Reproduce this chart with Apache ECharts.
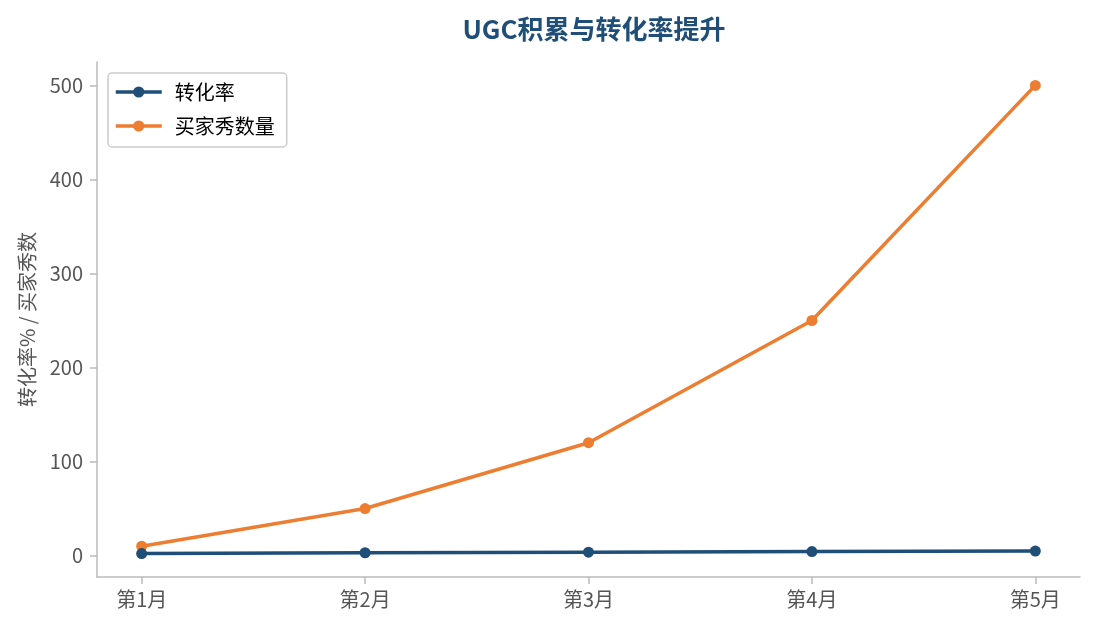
<!DOCTYPE html>
<html><head><meta charset="utf-8">
<script src="https://cdn.jsdelivr.net/npm/echarts@6/dist/echarts.min.js"></script>
<style>html,body{margin:0;padding:0;background:#fff}#c{width:1095px;height:630px}</style>
</head><body><div id="c"></div>
<script>
const categories = ['第1月','第2月','第3月','第4月','第5月'];
const conversionRate = [2.1, 3.0, 3.6, 4.2, 4.8];
const ugcCount = [10, 50, 120, 250, 500];
const yTicks = [0, 100, 200, 300, 400, 500];
const xTicks = [0, 1, 2, 3, 4];

const FONT = '"Noto Sans CJK SC", "Noto Sans", sans-serif';
const chart = echarts.init(document.getElementById('c'));
const toPts = arr => arr.map((v, i) => [i, v]);
chart.setOption({
  backgroundColor: '#fff',
  animation: false,
  title: {
    text: 'UGC积累与转化率提升',
    left: 589, top: 11, textAlign: 'center',
    textStyle: {fontFamily: FONT, fontSize: 26, fontWeight: 'bold', color: '#1f4e79'}
  },
  legend: {
    orient: 'vertical', left: 108, top: 73,
    padding: [9, 12, 11, 6],
    itemWidth: 46, itemHeight: 14, itemGap: 14,
    borderColor: '#cccccc', borderWidth: 1.5, borderRadius: 4,
    lineStyle: {width: 3.5},
    textStyle: {fontFamily: FONT, fontSize: 20, color: '#000', padding: [0, 0, 0, 8]},
    data: ['转化率', '买家秀数量']
  },
  grid: {left: 97, right: 15, top: 62, bottom: 53, containLabel: false},
  xAxis: {
    type: 'value', min: -0.2, max: 4.2,
    axisLine: {onZero: false, lineStyle: {color: '#bbbbbb', width: 1.5}},
    axisTick: {show: true, customValues: xTicks, length: 7, lineStyle: {color: '#bbbbbb', width: 1.5}},
    axisLabel: {customValues: xTicks, formatter: v => categories[Math.round(v)], margin: 12,
      fontFamily: FONT, fontSize: 20, color: '#555'},
    splitLine: {show: false}
  },
  yAxis: {
    type: 'value', min: -22.8, max: 524.9,
    name: '转化率% / 买家秀数', nameLocation: 'middle', nameGap: 60,
    nameTextStyle: {fontFamily: FONT, fontSize: 20, color: '#555'},
    axisLine: {show: true, onZero: false, lineStyle: {color: '#bbbbbb', width: 1.5}},
    axisTick: {show: true, customValues: yTicks, length: 7, lineStyle: {color: '#bbbbbb', width: 1.5}},
    axisLabel: {customValues: yTicks, margin: 14, fontFamily: FONT, fontSize: 20, color: '#555'},
    splitLine: {show: false}
  },
  series: [
    {name: '转化率', type: 'line', data: toPts(conversionRate), symbol: 'circle', symbolSize: 11,
      color: '#1f4e79', lineStyle: {width: 3.5, color: '#1f4e79'}, itemStyle: {color: '#1f4e79'}, z: 3},
    {name: '买家秀数量', type: 'line', data: toPts(ugcCount), symbol: 'circle', symbolSize: 11,
      color: '#ed7d31', lineStyle: {width: 3.5, color: '#ed7d31'}, itemStyle: {color: '#ed7d31'}, z: 2}
  ]
});
</script></body></html>
